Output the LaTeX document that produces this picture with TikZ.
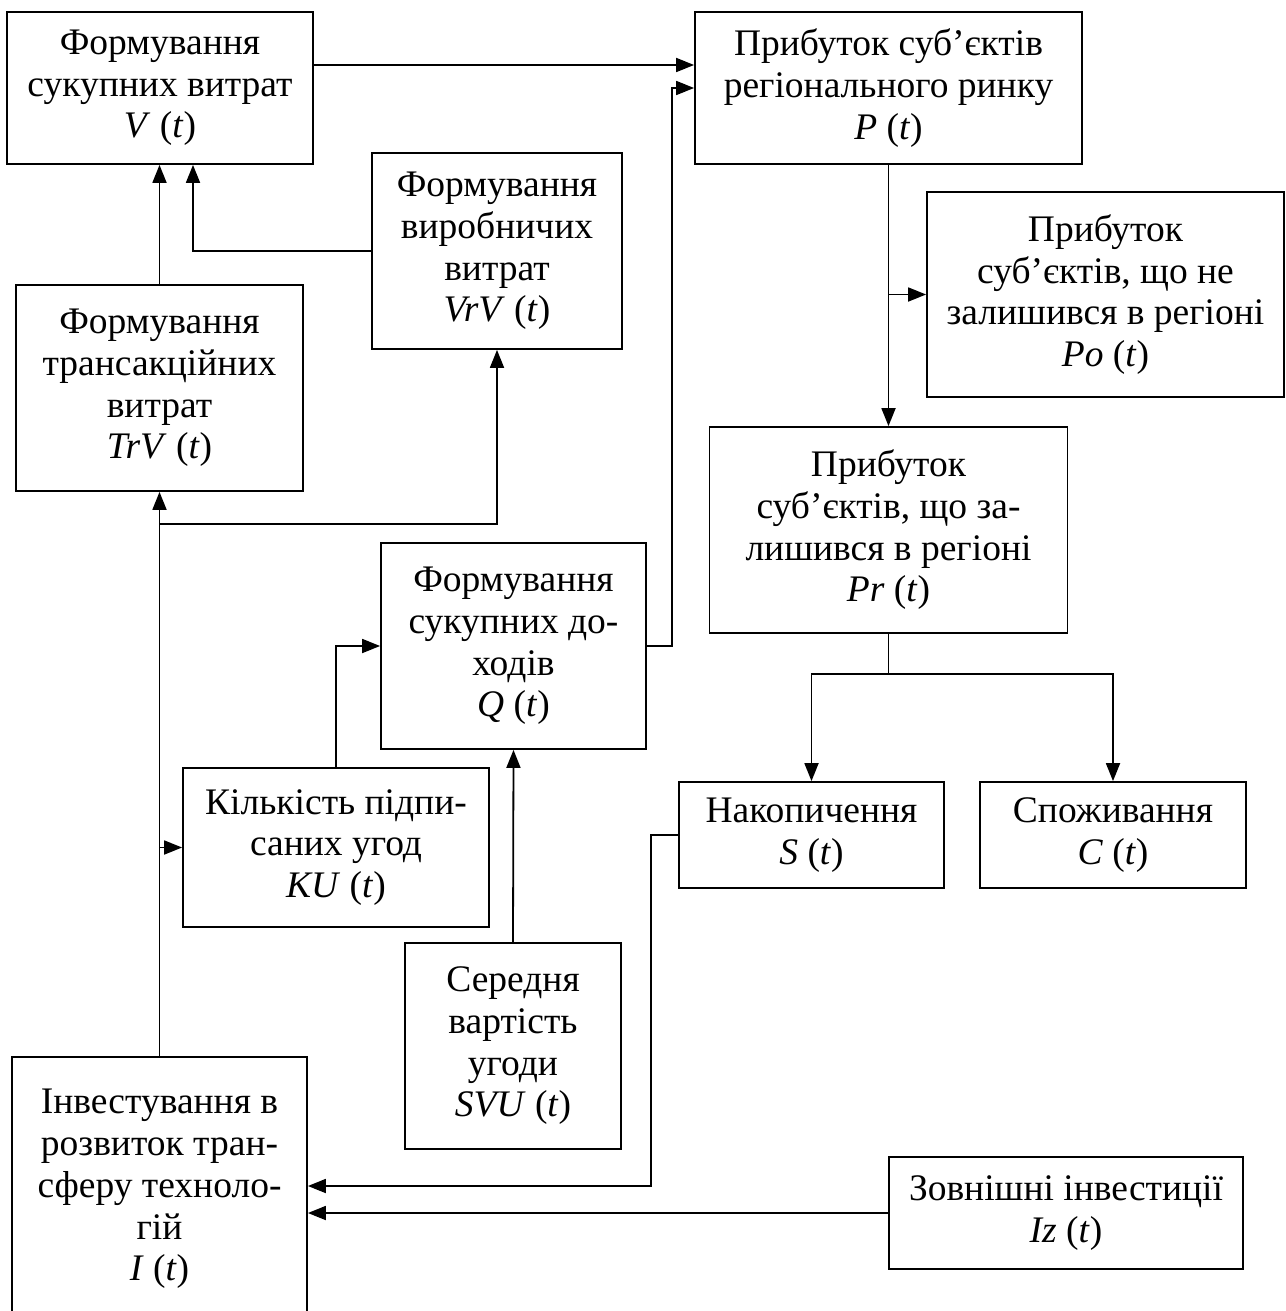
\documentclass[tikz,border=0pt]{standalone}
\usepackage{fontspec}
\setmainfont{Liberation Serif}
\usetikzlibrary{arrows.meta,calc}
\begin{document}
\begin{tikzpicture}[x=1pt,y=-1pt,
 box/.style={draw, line width=1.8pt, inner sep=0pt, align=center, font=\fontsize{37.5}{41.7}\selectfont},
 arr/.style={line width=1.8pt, -{Triangle[length=18pt,width=14pt]}},
 ln/.style={line width=1.8pt}]
\useasboundingbox (0,0) rectangle (1285,1311);
\begin{scope}
\clip (0,0) rectangle (1285,1311);
\node[box, minimum width=306pt, minimum height=152pt] (V) at (160,88) {Формування\\сукупних витрат\\\textit{V} (\textit{t})};
\node[box, minimum width=387pt, minimum height=152pt] (P) at (888.5,88) {Прибуток суб’єктів\\регіонального ринку\\\textit{P} (\textit{t})};
\node[box, minimum width=250pt, minimum height=196pt] (VrV) at (497,251) {Формування\\виробничих\\витрат\\\textit{VrV} (\textit{t})};
\node[box, minimum width=287pt, minimum height=206pt] (TrV) at (159.5,388) {Формування\\трансакційних\\витрат\\\textit{TrV} (\textit{t})};
\node[box, minimum width=357pt, minimum height=205pt] (Po) at (1105.5,294.5) {Прибуток\\суб’єктів, що не\\залишився в регіоні\\\textit{Po} (\textit{t})};
\node[box, minimum width=358pt, minimum height=206pt] (Pr) at (888.5,530) {Прибуток\\суб’єктів, що за-\\лишився в регіоні\\\textit{Pr} (\textit{t})};
\node[box, minimum width=265pt, minimum height=206pt] (Q) at (513.5,646) {Формування\\сукупних до-\\ходів\\\textit{Q} (\textit{t})};
\node[box, minimum width=306pt, minimum height=159pt] (KU) at (336,847.5) {Кількість підпи-\\саних угод\\\textit{KU} (\textit{t})};
\node[box, minimum width=265pt, minimum height=106pt] (S) at (811.5,835) {Накопичення\\\textit{S} (\textit{t})};
\node[box, minimum width=266pt, minimum height=106pt] (C) at (1113,835) {Споживання\\\textit{C} (\textit{t})};
\node[box, minimum width=216pt, minimum height=206pt] (SVU) at (513,1046) {Середня\\вартість\\угоди\\\textit{SVU} (\textit{t})};
\node[box, minimum width=295pt, minimum height=264pt] (I) at (159.5,1189) {Інвестування в\\розвиток тран-\\сферу техноло-\\гій\\\textit{I} (\textit{t})};
\node[box, minimum width=354pt, minimum height=112pt] (Iz) at (1066,1213) {Зовнішні інвестиції\\\textit{Iz} (\textit{t})};

\draw[arr] ([yshift=23pt]V.east) -- ([yshift=23pt]V.east -| P.west);
\draw[arr] (Q.east) -- ++(25,0) |- (P.west);
\draw[arr] (TrV.north) -- (TrV.north |- V.south);
\draw[arr] (VrV.west) -| ([xshift=33pt]V.south);
\draw[arr] (I.north) -- (TrV.south);
\coordinate (j1) at ($(TrV.south)+(0,32)$);
\draw[arr] (j1) -| (VrV.south);
\draw[arr] (KU.west -| I.north) -- (KU.west);
\draw[arr] (KU.north) |- (Q.west);
\draw[arr] (SVU.north) -- (Q.south);
\draw[arr] (P.south) -- (Pr.north);
\draw[arr] (Po.west -| P.south) -- (Po.west);
\coordinate (j2) at ($(Pr.south)+(0,40)$);
\draw[ln] (Pr.south) -- (j2);
\draw[arr] (j2) -| (S.north);
\draw[arr] (j2) -| (C.north);
\draw[arr] (S.west) -- ++(-27,0) |- ([yshift=3pt]I.east);
\draw[arr] (Iz.west) -- (Iz.west -| I.east);
\end{scope}
\end{tikzpicture}
\end{document}
